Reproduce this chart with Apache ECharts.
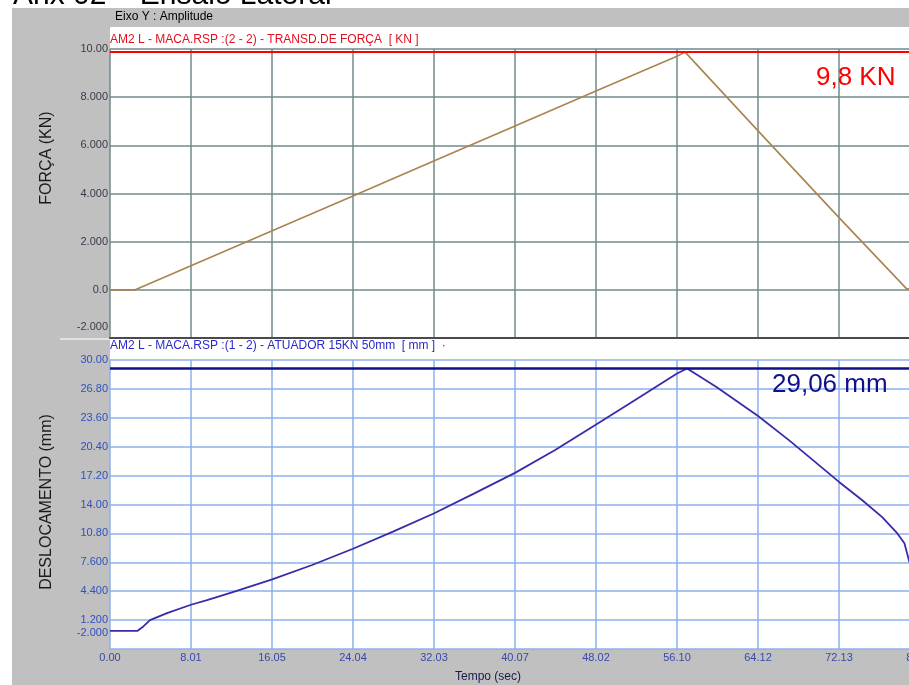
<!DOCTYPE html>
<html><head><meta charset="utf-8">
<script src="https://cdn.jsdelivr.net/npm/echarts@6/dist/echarts.min.js"></script>
<style>html,body{margin:0;padding:0;background:#fff}#c{width:909px;height:685px}</style>
</head><body><div id="c"></div>
<script>
// ---- data ----
const timeTicks  = ["0.00","8.01","16.05","24.04","32.03","40.07","48.02","56.10","64.12","72.13","80.14"];
const forceTicks = ["-2.000","0.0","2.000","4.000","6.000","8.000","10.00"];
const dispTicks  = ["-2.000","1.200","4.400","7.600","10.80","14.00","17.20","20.40","23.60","26.80","30.00"];

const forceTime  = [0, 2.5, 8.01, 16.05, 24.04, 32.03, 40.07, 48.02, 56.10, 56.9, 64.12, 72.13, 78.8, 80.14];
const forceValue = [0, 0.0, 1.0,  2.45,  3.9,   5.35,  6.8,   8.25,  9.7,   9.87, 6.6,   3.0,   0.05, 0.0];

const dispTime  = [0, 2.7, 3.3, 3.96, 5.64, 8.01, 9.6, 12.0, 16.05, 20.0, 24.04, 28.0, 32.03, 36.0, 40.07, 44.0, 48.02, 52.0, 56.10, 57.1, 60.0, 64.12, 67.2, 72.13, 74.4, 76.4, 77.9, 78.6, 79.1];
const dispValue = [0, 0.0, 0.5, 1.2,  1.97, 2.9,  3.4, 4.25, 5.7,  7.3,  9.1,   11.0, 13.0,  15.2, 17.5,  20.0, 22.8,  25.6, 28.5,  29.06, 27.0, 23.8, 21.1, 16.5, 14.5, 12.6, 10.8, 9.7, 7.6];

const forceRef = 9.9;     // red reference line (labelled 9,8 KN)
const dispRef  = 29.06;   // blue reference line

const FONT = "'Liberation Sans', Arial, sans-serif";
const chart = echarts.init(document.getElementById('c'), null, {renderer:'canvas'});

const topGrid = '#6f8a8c', botGrid = '#8cb0ec';

chart.setOption({
  animation:false,
  backgroundColor:'#ffffff',
  grid:[
    {left:110, top:49, height:289, width:810, containLabel:false, outerBoundsMode:'none'},
    {left:110, top:360, height:289, width:810, containLabel:false, outerBoundsMode:'none'}
  ],
  xAxis:[
    {gridIndex:0, type:'value', min:0, max:80.14, interval:8.014,
     axisLabel:{show:false}, axisTick:{show:false},
     axisLine:{show:true, onZero:false, lineStyle:{color:'#4a4a4a', width:2}},
     splitLine:{show:true, lineStyle:{color:topGrid, width:1.5}}},
    {gridIndex:1, type:'value', min:0, max:80.14, interval:8.014,
     axisTick:{show:false}, axisLine:{show:false},
     axisLabel:{color:'#3848a8', fontSize:11, fontFamily:FONT, margin:3,
       formatter:v=>timeTicks[Math.round(v/8.014)]},
     splitLine:{show:true, lineStyle:{color:botGrid, width:1.5}}}
  ],
  yAxis:[
    {gridIndex:0, type:'value', position:'left', min:-2, max:10, interval:2,
     axisLine:{show:false}, axisTick:{show:false},
     axisLabel:{color:'#3a3a4a', fontSize:11, fontFamily:FONT, margin:2,
       formatter:v=>{const i=Math.round((v+2)/2); const s=forceTicks[i]; return i===0?'{lo|'+s+'}':s;},
       rich:{lo:{color:'#3a3a4a', fontSize:11, fontFamily:FONT, padding:[0,0,22,0]}}},
     splitLine:{show:true, lineStyle:{color:topGrid, width:1.5}}},
    {gridIndex:1, type:'value', position:'left', min:-2, max:30, show:false},
    {gridIndex:1, type:'value', position:'left', offset:0, min:0, max:32, interval:3.2,
     axisLine:{show:false}, axisTick:{show:false},
     axisLabel:{color:'#3050c0', fontSize:11, fontFamily:FONT, margin:2,
       formatter:v=>{const i=Math.round(v/3.2); const s=dispTicks[i]; return i===0?'{lo|'+s+'}':s;},
       rich:{lo:{color:'#3050c0', fontSize:11, fontFamily:FONT, padding:[0,0,32,0]}}},
     splitLine:{show:true, lineStyle:{color:botGrid, width:1.5}}}
  ],
  series:[
    {type:'line', xAxisIndex:0, yAxisIndex:0, showSymbol:false, silent:true,
     data:forceTime.map((t,i)=>[t,forceValue[i]]),
     lineStyle:{color:'#a88450', width:1.6},
     markLine:{symbol:'none', silent:true, label:{show:false},
       lineStyle:{color:'#ff0000', width:2, type:'solid'}, data:[{yAxis:forceRef}]}},
    {type:'line', xAxisIndex:1, yAxisIndex:1, showSymbol:false, silent:true,
     data:dispTime.map((t,i)=>[t,dispValue[i]]),
     lineStyle:{color:'#3a2aa8', width:1.8},
     markLine:{symbol:'none', silent:true, label:{show:false},
       lineStyle:{color:'#10108a', width:2.5, type:'solid'}, data:[{yAxis:dispRef}]}}
  ],
  graphic:{elements:[
    {type:'rect', z:-100, shape:{x:12,y:8,width:897,height:677}, style:{fill:'#c0c0c0'}},
    {type:'rect', z:-99, shape:{x:110,y:27,width:799,height:311}, style:{fill:'#ffffff'}},
    {type:'rect', z:-99, shape:{x:110,y:339,width:799,height:310}, style:{fill:'#ffffff'}},
    {type:'line', z:-98, shape:{x1:60,y1:339,x2:110,y2:339}, style:{stroke:'#eeeeee', lineWidth:1.5}},
    {type:'text', z:50, x:13, y:-4, style:{text:'Anx 02 – Ensaio Lateral', font:'30px '+FONT, fill:'#000', align:'left', verticalAlign:'middle'}},
    {type:'text', z:50, x:115, y:17, style:{text:'Eixo Y : Amplitude', font:'12px '+FONT, fill:'#000', align:'left', verticalAlign:'middle'}},
    {type:'text', z:50, x:110, y:40, style:{text:'AM2 L - MACA.RSP :(2 - 2) - TRANSD.DE FORÇA  [ KN ]', font:'12px '+FONT, fill:'#e01020', align:'left', verticalAlign:'middle'}},
    {type:'text', z:50, x:110, y:346, style:{text:'AM2 L - MACA.RSP :(1 - 2) - ATUADOR 15KN 50mm  [ mm ]  ·', font:'12px '+FONT, fill:'#2a2ac8', align:'left', verticalAlign:'middle'}},
    {type:'text', z:50, x:47, y:158, rotation:Math.PI/2, style:{text:'FORÇA (KN)', font:'16px '+FONT, fill:'#1a1a1a', align:'center', verticalAlign:'middle'}},
    {type:'text', z:50, x:47, y:502, rotation:Math.PI/2, style:{text:'DESLOCAMENTO (mm)', font:'16px '+FONT, fill:'#1a1a1a', align:'center', verticalAlign:'middle'}},
    {type:'text', z:50, x:816, y:78, style:{text:'9,8 KN', font:'26px '+FONT, fill:'#ff0000', align:'left', verticalAlign:'middle'}},
    {type:'text', z:50, x:772, y:385, style:{text:'29,06 mm', font:'26px '+FONT, fill:'#10108a', align:'left', verticalAlign:'middle'}},
    {type:'text', z:50, x:455, y:677, style:{text:'Tempo (sec)', font:'12px '+FONT, fill:'#1a1a50', align:'left', verticalAlign:'middle'}}
  ]}
});
</script></body></html>
